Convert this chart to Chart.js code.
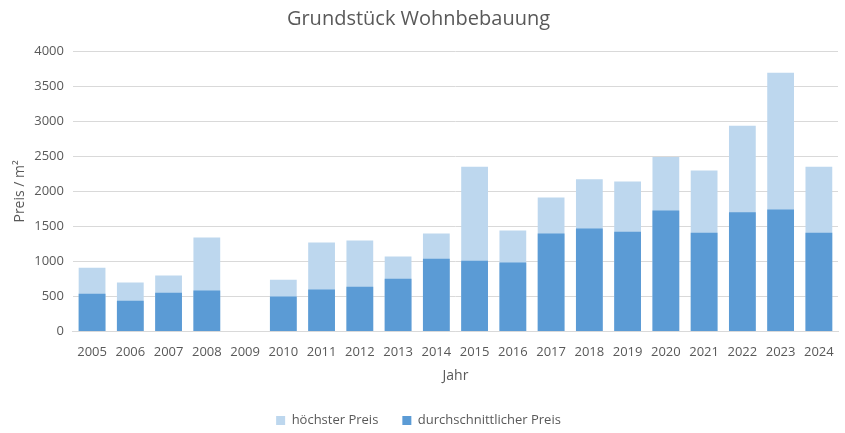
<!DOCTYPE html>
<html lang="de">
<head>
    <meta charset="UTF-8">
    <title>Grundstück Wohnbebauung</title>
    <script src="https://cdn.jsdelivr.net/npm/chart.js"></script>
    <style>
        html, body { margin: 0; padding: 0; background: #fff; }
        #wrap { width: 845px; height: 433px; }
    </style>
</head>
<body>
    <div id="wrap"><canvas id="chart" width="845" height="433"></canvas></div>

    <script>
        // Jahre und Preise (EUR / m²)
        const years = ['2005', '2006', '2007', '2008', '2009', '2010', '2011', '2012', '2013', '2014',
                       '2015', '2016', '2017', '2018', '2019', '2020', '2021', '2022', '2023', '2024'];
        const hoechsterPreis = [910, 700, 800, 1340, null, 740, 1270, 1300, 1070, 1400,
                                2350, 1440, 1910, 2170, 2140, 2490, 2295, 2935, 3690, 2350];
        const durchschnittPreis = [540, 440, 555, 585, null, 500, 600, 640, 755, 1040,
                                   1010, 985, 1400, 1470, 1425, 1725, 1410, 1700, 1740, 1410];

        const textColor = '#595959';
        const fontFamily = '"Open Sans", "Liberation Sans", sans-serif';

        new Chart(document.getElementById('chart').getContext('2d'), {
            type: 'bar',
            data: {
                labels: years,
                datasets: [
                    {
                        label: 'höchster Preis',
                        data: hoechsterPreis,
                        backgroundColor: '#BDD7EE',
                        grouped: false,
                        order: 1
                    },
                    {
                        label: 'durchschnittlicher Preis',
                        data: durchschnittPreis,
                        backgroundColor: '#5B9BD5',
                        grouped: false,
                        order: 0
                    }
                ]
            },
            options: {
                responsive: false,
                animation: false,
                barPercentage: 0.7,
                categoryPercentage: 1.0,
                layout: { padding: { left: -1, right: 7, top: 4, bottom: -4 } },
                scales: {
                    x: {
                        grid: { display: false },
                        border: { color: '#d9d9d9' },
                        ticks: { color: textColor, font: { family: fontFamily, size: 13 }, maxRotation: 0, padding: 5 },
                        title: { display: true, text: 'Jahr', color: textColor, font: { family: fontFamily, size: 14 }, padding: { top: 2, bottom: 6 } }
                    },
                    y: {
                        min: 0,
                        max: 4000,
                        ticks: {
                            stepSize: 500,
                            color: textColor,
                            font: { family: fontFamily, size: 13 },
                            padding: 9,
                            callback: v => String(v)
                        },
                        grid: { color: '#d9d9d9', drawTicks: false },
                        border: { display: false },
                        title: {
                            display: true,
                            text: 'Preis / m²',
                            color: textColor,
                            font: { family: fontFamily, size: 14, lineHeight: 0.8 },
                            padding: { top: 15, bottom: 0 }
                        }
                    }
                },
                plugins: {
                    title: {
                        display: true,
                        text: 'Grundstück Wohnbebauung',
                        color: textColor,
                        font: { family: fontFamily, size: 20, weight: 'normal' },
                        padding: { top: 3, bottom: 20 }
                    },
                    legend: {
                        position: 'bottom',
                        labels: {
                            color: textColor,
                            font: { family: fontFamily, size: 13 },
                            boxWidth: 9,
                            boxHeight: 9,
                            padding: 24,
                            sort: (a, b) => a.datasetIndex - b.datasetIndex
                        }
                    },
                    tooltip: { enabled: false }
                }
            }
        });
    </script>
</body>
</html>
